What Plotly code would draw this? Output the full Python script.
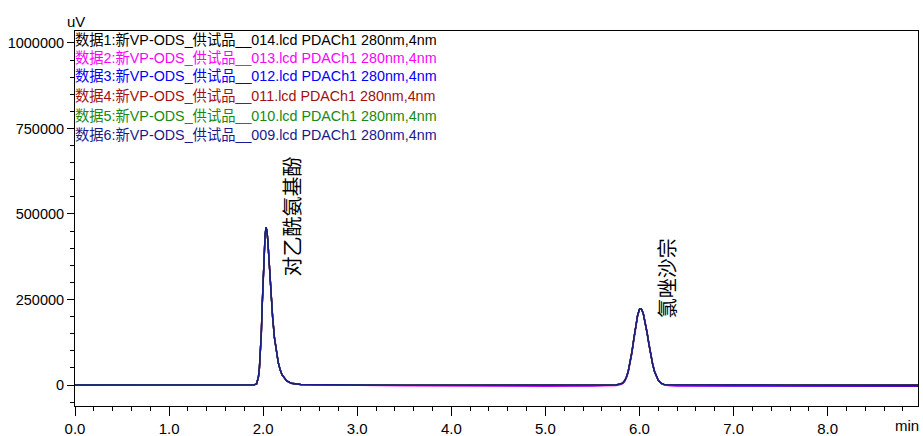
import plotly.graph_objects as go

# retention time (min)
T = [0.0, 0.5, 1.0, 1.5, 1.8,
     1.9, 1.93, 1.95, 1.96, 1.97, 1.98, 1.99, 2.00, 2.01, 2.02, 2.03, 2.04, 2.05, 2.06,
     2.07, 2.08, 2.09, 2.10, 2.12, 2.14, 2.16, 2.18, 2.20, 2.25, 2.30, 2.40, 2.60,
     3.0, 3.5, 4.0, 4.5, 5.0, 5.5,
     5.75, 5.80, 5.82, 5.84, 5.86, 5.88, 5.90, 5.92, 5.94, 5.96, 5.98, 6.00, 6.02,
     6.04, 6.06, 6.08, 6.10, 6.12, 6.14, 6.16, 6.18, 6.20, 6.23, 6.26, 6.30, 6.40,
     7.0, 7.5, 8.0, 8.5, 8.96]

S1 = [0, 0, 0, 0, 0,
      500, 3000, 25000, 50000, 88000, 150000, 235000, 315000, 385000, 437000,
      461000, 452000, 420000, 370000, 312000, 268000, 232000, 200000, 138000, 98000,
      66000, 45000, 30000, 12000, 5000, 1500, 500,
      0, -300, -600, -600, -500, -300,
      300, 2600, 5700, 11800, 22800, 40200, 65600, 98300, 136200, 173800,
      204400, 221800, 222200, 208600, 184000, 152400, 118500, 86700, 59500, 38400,
      23200, 13300, 5000, 1600, 300, 200,
      200, 0, 0, 0, -200]
S2 = [0, 0, 0, 0, 0,
      300, 2500, 22000, 47000, 85000, 146000, 230000, 311000, 382000, 434000,
      459000, 452000, 422000, 373000, 316000, 272000, 236000, 204000, 141000, 100000,
      68000, 46000, 31000, 12500, 5200, 1500, 300,
      -1000, -2000, -3000, -3500, -3500, -3000,
      -1500, 1500, 4200, 9800, 19800, 36000, 60500, 92500, 130500, 169000,
      201000, 220000, 223000, 211000, 188000, 157000, 123500, 91500, 63500, 41500,
      25500, 14800, 5800, 1500, -1500, -3000,
      -3000, -3200, -3500, -3500, -3800]
S3 = [0, 0, 0, 0, 0,
      400, 2800, 24000, 49000, 87000, 149000, 234000, 314000, 384000, 436000,
      460000, 451000, 419000, 369000, 311000, 268000, 232000, 200000, 138000, 98000,
      66000, 45000, 30000, 12000, 4800, 1200, 200,
      -500, -1200, -1800, -2000, -2000, -1500,
      -500, 2000, 5000, 11000, 21800, 39000, 64000, 96800, 135000, 173000,
      204000, 221500, 222800, 209500, 185500, 154000, 120000, 88000, 60500, 39000,
      23500, 13200, 4800, 1200, -800, -1800,
      -2000, -2200, -2500, -2500, -2800]
S4 = [0, 0, 0, 0, 0,
      450, 2900, 24500, 49500, 87500, 149500, 234500, 314500, 384500, 436500,
      460500, 451500, 419500, 369500, 311500, 267500, 231500, 199500, 137500, 97500,
      65500, 44500, 29500, 11800, 4900, 1400, 400,
      -200, -800, -1300, -1400, -1200, -900,
      0, 2300, 5400, 11500, 22300, 39500, 64800, 97500, 135500, 173300,
      204100, 221600, 222400, 209000, 184800, 153500, 119500, 87600, 60100, 38800,
      23300, 13300, 5000, 1500, -200, -800,
      -900, -1000, -1200, -1200, -1500]
S5 = [0, 0, 0, 0, 0,
      500, 3000, 25000, 50000, 88000, 150000, 235000, 315000, 385000, 437000,
      461000, 452000, 420000, 370000, 312000, 268000, 232000, 200000, 138000, 98000,
      66000, 45000, 30000, 12000, 5000, 1500, 500,
      0, -600, -1100, -1200, -1000, -700,
      100, 2400, 5500, 11600, 22500, 39800, 65000, 97700, 135700, 173500,
      204200, 221700, 222300, 208900, 184500, 153000, 119200, 87300, 59900, 38700,
      23400, 13400, 5000, 1600, 100, -500,
      -600, -800, -900, -1000, -1200]
S6 = [0, 0, 0, 0, 0,
      500, 3000, 25000, 50000, 88000, 150000, 235000, 315000, 385000, 437000,
      461000, 452000, 420000, 370000, 312000, 268000, 232000, 200000, 138000, 98000,
      66000, 45000, 30000, 12000, 5000, 1500, 500,
      0, -500, -1000, -1000, -800, -500,
      200, 2500, 5600, 11700, 22600, 39900, 65200, 97900, 135900, 173600,
      204300, 221700, 222300, 208800, 184300, 152800, 118900, 87100, 59800, 38600,
      23400, 13400, 5100, 1700, 300, 0,
      0, -300, -500, -500, -800]

SERIES = [S1, S2, S3, S4, S5, S6]
NAMES = [
    "数据1:新VP-ODS_供试品__014.lcd PDACh1 280nm,4nm",
    "数据2:新VP-ODS_供试品__013.lcd PDACh1 280nm,4nm",
    "数据3:新VP-ODS_供试品__012.lcd PDACh1 280nm,4nm",
    "数据4:新VP-ODS_供试品__011.lcd PDACh1 280nm,4nm",
    "数据5:新VP-ODS_供试品__010.lcd PDACh1 280nm,4nm",
    "数据6:新VP-ODS_供试品__009.lcd PDACh1 280nm,4nm",
]
COLORS = ["#000000", "#FF00FF", "#0000FF", "#A01010", "#158A15", "#1A1A8C"]

X_TICKS = [0, 1, 2, 3, 4, 5, 6, 7, 8]
X_TICKTEXT = ["0.0", "1.0", "2.0", "3.0", "4.0", "5.0", "6.0", "7.0", "8.0"]
Y_TICKS = [0, 250000, 500000, 750000, 1000000]
Y_TICKTEXT = ["0", "250000", "500000", "750000", "1000000"]

PEAK_NAMES = ["对乙酰氨基酚", "氯唑沙宗"]
PEAK_LABEL_X = [2.30, 6.296]
PEAK_LABEL_Y = [494000, 313000]

FONT = "Liberation Sans, Arial, Noto Sans CJK SC, sans-serif"

fig = go.Figure()
for s, n, c in zip(SERIES, NAMES, COLORS):
    fig.add_trace(go.Scatter(x=T, y=s, mode="lines", name=n,
                             line=dict(color=c, width=1.4), showlegend=False))

W, H = 923, 436
ML, MR, MT, MB = 75, 5, 31, 30
pw, ph = W - ML - MR, H - MT - MB


def px(x):
    return (x - ML) / pw


def py(y):
    return (H - MB - y) / ph


ann = []
legend_y = [40, 57.5, 76, 96, 115.5, 135]
for n, c, yy in zip(NAMES, COLORS, legend_y):
    ann.append(dict(text=n, xref="paper", yref="paper", x=px(73), y=py(yy),
                    xanchor="left", yanchor="middle", showarrow=False,
                    font=dict(family=FONT, size=14.3, color=c)))
for t, xx, yy in zip(PEAK_NAMES, PEAK_LABEL_X, PEAK_LABEL_Y):
    ann.append(dict(text=t, xref="x", yref="y", x=xx, y=yy, textangle=-90,
                    xanchor="center", yanchor="middle", showarrow=False,
                    font=dict(family="Noto Sans CJK SC", size=20, color="#000000")))
ann.append(dict(text="uV", xref="paper", yref="paper", x=px(76), y=py(21),
                xanchor="center", yanchor="middle", showarrow=False,
                font=dict(family=FONT, size=15, color="#000000")))
ann.append(dict(text="min", xref="paper", yref="paper", x=px(907), y=py(426),
                xanchor="center", yanchor="middle", showarrow=False,
                font=dict(family=FONT, size=15, color="#000000")))

fig.update_layout(
    template="none",
    width=W, height=H,
    margin=dict(l=ML, r=MR, t=MT, b=MB, pad=0, autoexpand=False),
    paper_bgcolor="white", plot_bgcolor="white",
    font=dict(family=FONT, size=14.5, color="#000000"),
    annotations=ann,
    xaxis=dict(range=[0, 8.96], tickvals=X_TICKS, ticktext=X_TICKTEXT,
               automargin=False,
               ticks="outside", ticklen=9, tickcolor="black", tickwidth=1,
               minor=dict(dtick=0.2, tick0=0, ticks="outside", ticklen=4,
                          tickcolor="black", showgrid=False),
               showline=True, linecolor="black", linewidth=1, mirror=True,
               showgrid=False, zeroline=False, tickfont=dict(size=15)),
    yaxis=dict(range=[-61400, 1035000], tickvals=Y_TICKS, ticktext=Y_TICKTEXT,
               automargin=False,
               ticks="outside", ticklen=7, tickcolor="black", tickwidth=1,
               minor=dict(dtick=50000, tick0=0, ticks="outside", ticklen=4,
                          tickcolor="black", showgrid=False),
               showline=True, linecolor="black", linewidth=1, mirror=True,
               showgrid=False, zeroline=False, tickfont=dict(size=14.5)),
)

fig.write_html("out.html", config={"displayModeBar": False},
               post_script="document.body.style.margin='0';document.body.style.overflow='hidden';")
